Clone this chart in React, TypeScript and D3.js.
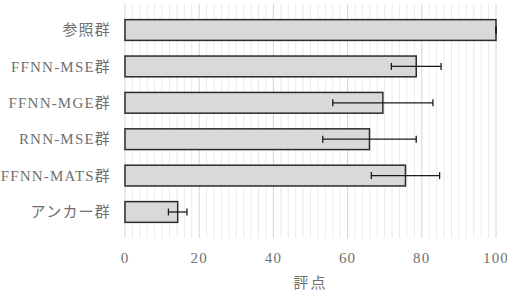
import React, { useEffect, useRef } from "react";
import * as d3 from "d3";

const categories = ["参照群", "FFNN-MSE群", "FFNN-MGE群", "RNN-MSE群", "FFNN-MATS群", "アンカー群"];
const means = [100, 78.5, 69.5, 65.9, 75.6, 14.2];
const errors = [0, 6.7, 13.5, 12.6, 9.2, 2.5];
const xTicks = [0, 20, 40, 60, 80, 100];

const font = "Liberation Serif, Noto Sans CJK JP, serif";

const App = () => {
    const svgRef = useRef<SVGSVGElement>(null);

    useEffect(() => {
        const width = 507, height = 293;
        const margin = { top: 4, right: 11, bottom: 55, left: 125 };
        const w = width - margin.left - margin.right;
        const h = height - margin.top - margin.bottom;

        const svg = d3.select(svgRef.current);
        svg.selectAll("*").remove();

        const x = d3.scaleLinear().domain([0, 100]).range([0, w]);
        const y = d3.scaleBand().domain(categories).range([0, h]).padding(0.43);

        const g = svg.append("g").attr("transform", `translate(${margin.left},${margin.top})`);

        // minor grid every 2
        g.selectAll(".minor")
            .data(d3.range(0, 101, 2).filter(v => v % 20 !== 0))
            .enter().append("line")
            .attr("x1", d => x(d)).attr("x2", d => x(d))
            .attr("y1", 0).attr("y2", h)
            .attr("stroke", "#ebebeb").attr("stroke-width", 1);

        g.selectAll(".major")
            .data(xTicks)
            .enter().append("line")
            .attr("x1", d => x(d)).attr("x2", d => x(d))
            .attr("y1", 0).attr("y2", h)
            .attr("stroke", "#d4d4d4").attr("stroke-width", 1);

        g.selectAll(".bar")
            .data(categories)
            .enter().append("rect")
            .attr("x", 0)
            .attr("y", d => y(d)!)
            .attr("width", (d, i) => x(means[i]))
            .attr("height", y.bandwidth())
            .attr("fill", "#d9d9d9")
            .attr("stroke", "#2b2b2b")
            .attr("stroke-width", 1.5);

        const eb = g.selectAll(".err")
            .data(categories)
            .enter().append("g")
            .attr("transform", d => `translate(0,${y(d)! + y.bandwidth() / 2})`);

        eb.append("line")
            .attr("x1", (d, i) => x(means[i] - errors[i]))
            .attr("x2", (d, i) => x(means[i] + errors[i]))
            .attr("stroke", "#1a1a1a").attr("stroke-width", 1.3);
        eb.append("line")
            .attr("x1", (d, i) => x(means[i] - errors[i]))
            .attr("x2", (d, i) => x(means[i] - errors[i]))
            .attr("y1", -3.5).attr("y2", 3.5)
            .attr("stroke", "#1a1a1a").attr("stroke-width", 1.3);
        eb.append("line")
            .attr("x1", (d, i) => x(means[i] + errors[i]))
            .attr("x2", (d, i) => x(means[i] + errors[i]))
            .attr("y1", -3.5).attr("y2", 3.5)
            .attr("stroke", "#1a1a1a").attr("stroke-width", 1.3);

        g.selectAll(".cat")
            .data(categories)
            .enter().append("text")
            .attr("x", -14)
            .attr("y", d => y(d)! + y.bandwidth() / 2)
            .attr("dy", "0.35em")
            .attr("text-anchor", "end")
            .attr("font-family", font)
            .attr("font-size", 15)
            .attr("letter-spacing", 1.2)
            .attr("fill", "#707070")
            .text(d => d);

        g.selectAll(".tick")
            .data(xTicks)
            .enter().append("text")
            .attr("x", d => x(d))
            .attr("y", h + 20)
            .attr("dy", "0.35em")
            .attr("text-anchor", "middle")
            .attr("font-family", font)
            .attr("font-size", 15)
            .attr("letter-spacing", 1.2)
            .attr("fill", "#707070")
            .text(d => d);

        g.append("text")
            .attr("x", w / 2)
            .attr("y", h + 45)
            .attr("dy", "0.35em")
            .attr("text-anchor", "middle")
            .attr("font-family", font)
            .attr("font-size", 15)
            .attr("letter-spacing", 2)
            .attr("fill", "#707070")
            .text("評点");
    }, []);

    return (
        <svg ref={svgRef} width={507} height={293}
            style={{ position: "absolute", left: 0, top: 0, background: "#fff" }} />
    );
};

export default App;
